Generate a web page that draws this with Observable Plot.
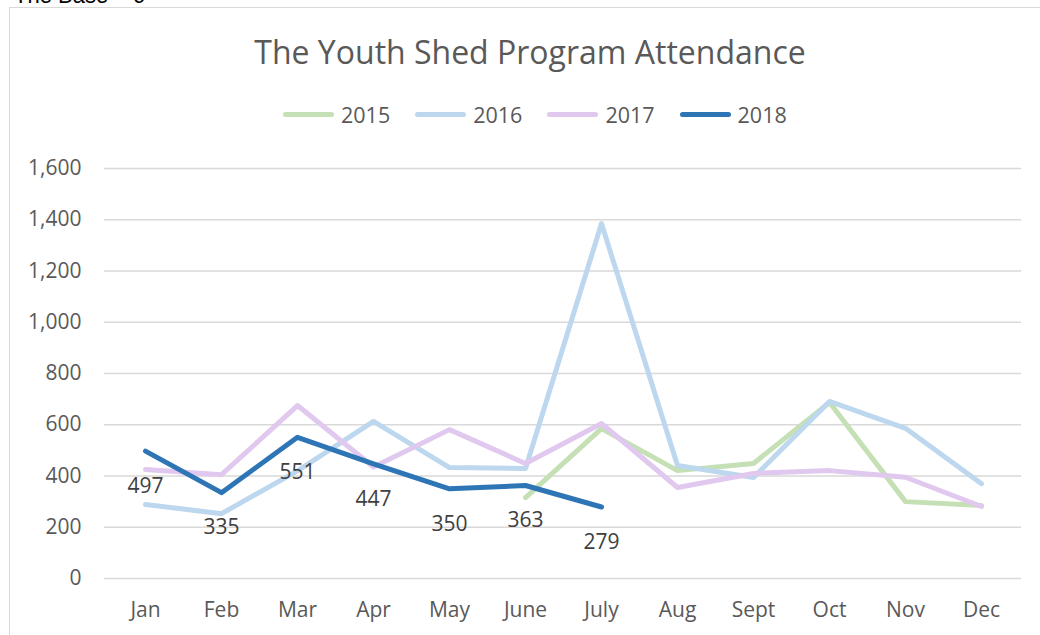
<!DOCTYPE html>
<html>
<head>
<meta charset="utf-8">
<script src="https://cdn.jsdelivr.net/npm/d3@7"></script>
<script src="https://cdn.jsdelivr.net/npm/@observablehq/plot@0.6"></script>
<style>
  html, body { margin: 0; padding: 0; background: #fff; }
  #wrap { position: relative; width: 1040px; height: 635px; overflow: hidden; font-family: "Open Sans", sans-serif; }
  #pretitle { position: absolute; left: 14px; top: -17px; font-family: "Liberation Sans", Arial, sans-serif; font-size: 22px; color: #000; white-space: nowrap; }
  #frame { position: absolute; left: 9px; top: 7px; width: 1100px; height: 700px; border: 1px solid #d9d9d9; box-sizing: border-box; }
  #title { position: absolute; left: 0; width: 1060px; top: 30px; text-align: center; font-size: 32px; color: #595959; white-space: nowrap; }
  #legend { position: absolute; left: 283px; top: 100px; display: flex; align-items: center; font-size: 21.5px; color: #595959; }
  .item { display: flex; align-items: center; margin-right: 25px; }
  .sw { width: 51px; height: 5px; border-radius: 3px; margin-right: 7px; }
  #chart { position: absolute; left: 0; top: 150px; }
</style>
</head>
<body>
<div id="wrap">
  <div id="pretitle">The Base – 6</div>
  <div id="frame"></div>
  <div id="title">The Youth Shed Program Attendance</div>
  <div id="legend"></div>
  <div id="chart"></div>
</div>
<script>
const months = ["Jan","Feb","Mar","Apr","May","June","July","Aug","Sept","Oct","Nov","Dec"];
const years = ["2015","2016","2017","2018"];
const colors = ["#c5e0b4","#bdd7ee","#e0c8ee","#2e75b6"];
const widths = [5, 5, 5, 5];
const v2015 = [null,null,null,null,null,316,585,421,449,687,300,285];
const v2016 = [289,253,420,613,433,429,1385,441,394,691,586,370];
const v2017 = [425,405,675,435,581,449,605,355,410,421,395,281];
const v2018 = [497,335,551,447,350,363,279,null,null,null,null,null];
const yTicks = [0,200,400,600,800,1000,1200,1400,1600];

const series = [v2015, v2016, v2017, v2018];
const rows = [];
series.forEach((vals, i) => vals.forEach((v, j) => rows.push({year: years[i], month: months[j], value: v})));
const labels = rows.filter(d => d.year === "2018" && d.value != null);

const legend = document.getElementById("legend");
years.forEach((y, i) => {
  const it = document.createElement("div");
  it.className = "item";
  it.innerHTML = `<div class="sw" style="background:${colors[i]}"></div><span>${y}</span>`;
  legend.appendChild(it);
});

const marks = [
  Plot.gridY(yTicks, {stroke: "#d9d9d9", strokeOpacity: 1, strokeWidth: 1.5}),
  Plot.axisY(yTicks, {tickSize: 0, tickPadding: 23, tickFormat: d3.format(","), fontSize: 21, fill: "#595959", label: null}),
  Plot.axisX({tickSize: 0, tickPadding: 24, fontSize: 21, fill: "#595959", label: null})
];
years.forEach((y, i) => {
  marks.push(Plot.line(rows.filter(d => d.year === y), {
    x: "month", y: "value", stroke: colors[i], strokeWidth: widths[i],
    strokeLinecap: "round", strokeLinejoin: "round"
  }));
});
marks.push(Plot.text(labels, {x: "month", y: "value", text: d => String(d.value), dy: 35, fontSize: 21, fill: "#404040"}));

const chart = Plot.plot({
  width: 1040,
  height: 485,
  marginLeft: 104,
  marginRight: 19,
  marginTop: 18,
  marginBottom: 57,
  style: {fontFamily: "'Open Sans', sans-serif", background: "transparent", overflow: "visible"},
  x: {type: "point", domain: months, padding: 0.5},
  y: {domain: [0, 1600]},
  marks
});
document.getElementById("chart").appendChild(chart);
</script>
</body>
</html>
